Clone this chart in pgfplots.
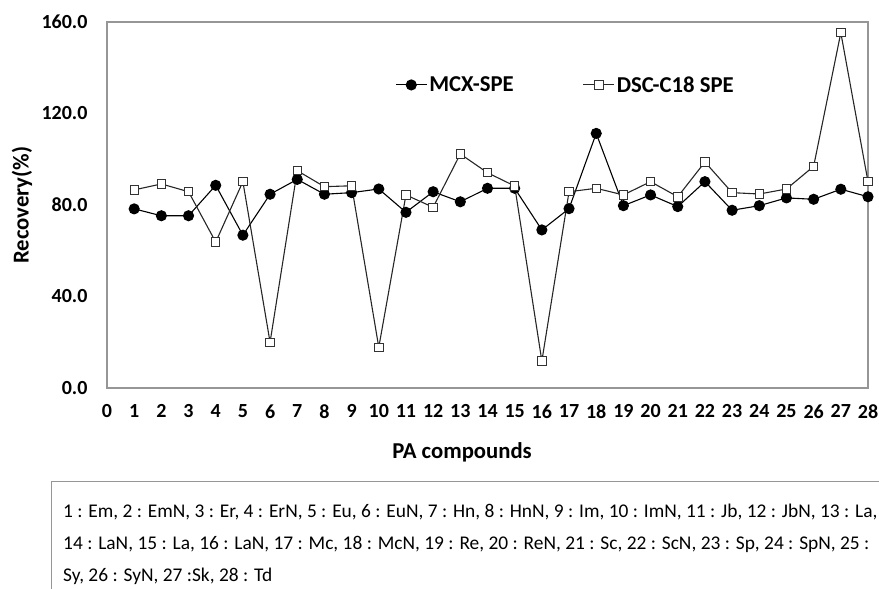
\documentclass[border=0pt]{standalone}
\usepackage{fontspec}
\setmainfont{Carlito}
\usepackage{pgfplots}
\usepackage{pgfplotstable}
\pgfplotsset{compat=1.18}
\definecolor{framegray}{RGB}{150,150,150}

% recovery (%) per compound
\pgfplotstableread{
x mcx dsc
1 78.3 86.6
2 75.3 89.2
3 75.3 85.8
4 88.6 63.8
5 66.8 90.2
6 84.7 20.0
7 91.2 95.0
8 84.7 88.0
9 85.4 88.4
10 87.0 17.8
11 76.8 84.4
12 85.8 79.0
13 81.4 102.3
14 87.3 94.1
15 87.3 88.3
16 69.1 11.8
17 78.4 85.8
18 111.3 87.3
19 79.7 84.4
20 84.4 90.2
21 79.3 83.6
22 90.2 98.8
23 77.7 85.4
24 79.7 84.8
25 83.1 87.0
26 82.5 96.9
27 86.9 155.3
28 83.6 90.2
}\recovery

\begin{document}
\begin{tikzpicture}[x=1pt,y=1pt]
\useasboundingbox (0,0) rectangle (879,589);
\begin{axis}[
    at={(107pt,201pt)}, anchor=south west,
    scale only axis, width=761pt, height=366pt,
    xmin=0, xmax=28, ymin=0, ymax=160,
    xtick={0,...,28}, ytick={0,40,...,160},
    major tick length=0pt,
    axis line style={framegray, line width=1.2pt},
    /pgf/number format/assume math mode=true,
    yticklabel style={/pgf/number format/fixed, /pgf/number format/zerofill,
        /pgf/number format/precision=1, xshift=-16pt},
    ticklabel style={font=\bfseries\fontsize{20}{24}\selectfont},
    xticklabel style={yshift=-13pt},
    xlabel={PA compounds},
    ylabel={Recovery(\%)},
    label style={font=\bfseries\fontsize{22.7}{26}\selectfont},
    xlabel style={at={(axis description cs:0.4665,-0.175)}, anchor=center},
    ylabel style={at={(axis description cs:-0.1117,0.5)}, anchor=center},
    legend columns=2,
    legend style={draw=none, fill=none, inner sep=0pt, at={(0.3785,0.828)}, anchor=west,
        font=\bfseries\fontsize{22.7}{26}\selectfont,
        /tikz/every even column/.append style={column sep=67pt}},
    legend image code/.code={
        \draw[mark repeat=2, mark phase=2, #1] plot coordinates {(0pt,0pt) (15.5pt,0pt) (31pt,0pt)};},
]
\addplot[black, line width=1.1pt, mark=*, mark size=5pt, mark options={solid, fill=black}]
    table[x=x, y=mcx] {\recovery};
\addplot[black!85, line width=1.1pt, mark=square*, mark size=4.2pt, mark options={solid, fill=white, draw=black!80, line width=0.9pt}]
    table[x=x, y=dsc] {\recovery};
\legend{MCX-SPE, DSC-C18 SPE}
\end{axis}
\begin{scope}
\clip (0,0) rectangle (879,589);
\draw[framegray, line width=1pt] (51,-5) -- (51,107) -- (890,107);
\begin{scope}[every node/.style={anchor=base west, inner sep=0pt, font=\fontsize{19.4}{23}\selectfont}]
\node at (63,71) {1 : Em, 2 : EmN, 3 : Er, 4 : ErN, 5 : Eu, 6 : EuN, 7 : Hn, 8 : HnN, 9 : Im, 10 : ImN, 11 : Jb, 12 : JbN, 13 : La,};
\node at (63,39) {14 : LaN, 15 : La, 16 : LaN, 17 : Mc, 18 : McN, 19 : Re, 20 : ReN, 21 : Sc, 22 : ScN, 23 : Sp, 24 : SpN, 25 :};
\node at (63,7) {Sy, 26 : SyN, 27 :Sk, 28 : Td};
\end{scope}
\end{scope}
\end{tikzpicture}
\end{document}
